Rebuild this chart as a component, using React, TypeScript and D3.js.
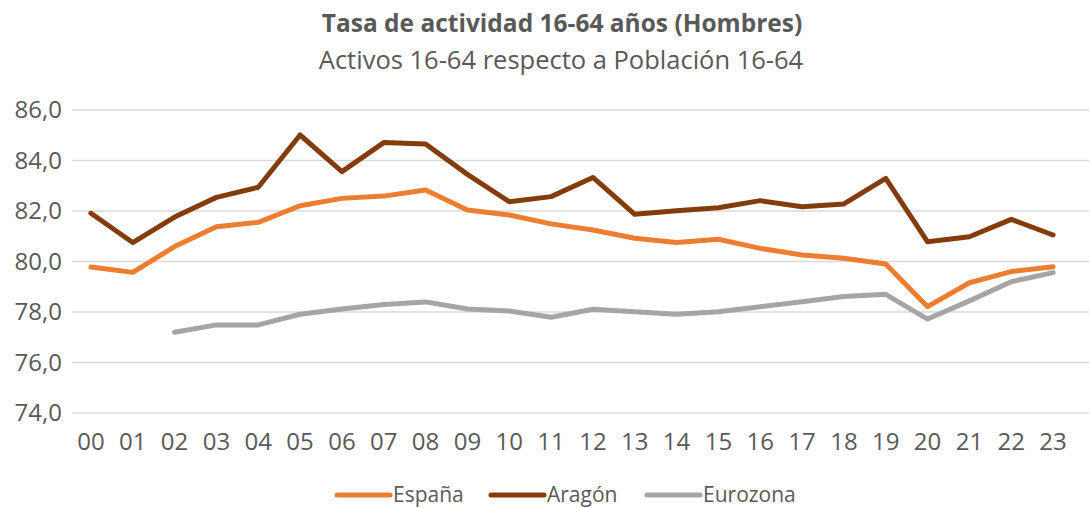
import React, { useEffect, useRef } from 'react';
import * as d3 from 'd3';

const years = ['00', '01', '02', '03', '04', '05', '06', '07', '08', '09', '10', '11',
  '12', '13', '14', '15', '16', '17', '18', '19', '20', '21', '22', '23'];

const espana = [79.78, 79.57, 80.59, 81.38, 81.55, 82.21, 82.5, 82.59, 82.83, 82.04, 81.84, 81.49,
  81.25, 80.92, 80.75, 80.88, 80.52, 80.26, 80.13, 79.9, 78.21, 79.16, 79.6, 79.79];

const aragon = [81.91, 80.75, 81.76, 82.54, 82.94, 85.01, 83.56, 84.71, 84.65, 83.45, 82.37, 82.57,
  83.33, 81.87, 82.01, 82.13, 82.41, 82.17, 82.28, 83.29, 80.78, 80.98, 81.67, 81.05];

const eurozona: (number | null)[] = [null, null, 77.2, 77.49, 77.49, 77.91, 78.12, 78.3, 78.4, 78.12, 78.04, 77.79,
  78.11, 78.01, 77.91, 78.01, 78.21, 78.41, 78.61, 78.7, 77.72, 78.44, 79.2, 79.56];

const yTicks = [74, 76, 78, 80, 82, 84, 86];

const series = [
  { name: 'España', values: espana as (number | null)[], color: '#ED7D31' },
  { name: 'Aragón', values: aragon as (number | null)[], color: '#843C0C' },
  { name: 'Eurozona', values: eurozona, color: '#A5A5A5' },
];

const App: React.FC = () => {
  const ref = useRef<SVGSVGElement | null>(null);

  useEffect(() => {
    const width = 1089;
    const height = 508;
    const font = "'Open Sans', 'Noto Sans', sans-serif";
    const textColor = '#595959';

    d3.select(ref.current).selectAll('*').remove();
    const svg = d3.select(ref.current)
      .attr('width', width)
      .attr('height', height)
      .style('font-family', font);

    const x = d3.scaleBand().domain(years).range([70, 1074]).padding(0);
    const cx = (d: string) => x(d)! + x.bandwidth() / 2;
    const y = d3.scaleLinear().domain([74, 86]).range([413, 110]);

    // titles
    svg.append('text')
      .attr('x', 562).attr('y', 32)
      .attr('text-anchor', 'middle')
      .attr('fill', textColor)
      .style('font-size', '24.5px').style('font-weight', 'bold')
      .text('Tasa de actividad 16-64 años (Hombres)');
    svg.append('text')
      .attr('x', 561).attr('y', 69)
      .attr('text-anchor', 'middle')
      .attr('fill', textColor)
      .style('font-size', '25.5px')
      .text('Activos 16-64 respecto a Población 16-64');

    // grid
    svg.append('g')
      .selectAll('line')
      .data(yTicks)
      .enter()
      .append('line')
      .attr('x1', 72).attr('x2', width)
      .attr('y1', (d) => y(d)).attr('y2', (d) => y(d))
      .attr('stroke', '#D9D9D9').attr('stroke-width', 1.5);

    // y labels
    svg.append('g')
      .selectAll('text')
      .data(yTicks)
      .enter()
      .append('text')
      .attr('x', 62).attr('y', (d) => y(d))
      .attr('dy', '0.35em')
      .attr('text-anchor', 'end')
      .attr('fill', textColor)
      .style('font-size', '24px')
      .text((d) => d.toFixed(1).replace('.', ','));

    // x labels
    svg.append('g')
      .selectAll('text')
      .data(years)
      .enter()
      .append('text')
      .attr('x', (d) => cx(d)).attr('y', 442)
      .attr('dy', '0.35em')
      .attr('text-anchor', 'middle')
      .attr('fill', textColor)
      .style('font-size', '24px')
      .text((d) => d);

    // lines
    const line = d3.line<number | null>()
      .defined((d) => d !== null)
      .x((_, i) => cx(years[i]))
      .y((d) => y(d as number));

    series.forEach((s) => {
      svg.append('path')
        .datum(s.values)
        .attr('d', line)
        .attr('fill', 'none')
        .attr('stroke', s.color)
        .attr('stroke-width', 5)
        .attr('stroke-linejoin', 'round')
        .attr('stroke-linecap', 'round');
    });

    // legend
    const legendX = [337, 491, 647];
    const lg = svg.append('g');
    series.forEach((s, i) => {
      lg.append('line')
        .attr('x1', legendX[i]).attr('x2', legendX[i] + 53)
        .attr('y1', 495).attr('y2', 495)
        .attr('stroke', s.color).attr('stroke-width', 5)
        .attr('stroke-linecap', 'round');
      lg.append('text')
        .attr('x', legendX[i] + 56).attr('y', 495)
        .attr('dy', '0.35em')
        .attr('fill', textColor)
        .style('font-size', '21px')
        .text(s.name);
    });
  }, []);

  return <svg ref={ref} style={{ position: 'absolute', left: 0, top: 0, display: 'block' }}></svg>;
};

export default App;
